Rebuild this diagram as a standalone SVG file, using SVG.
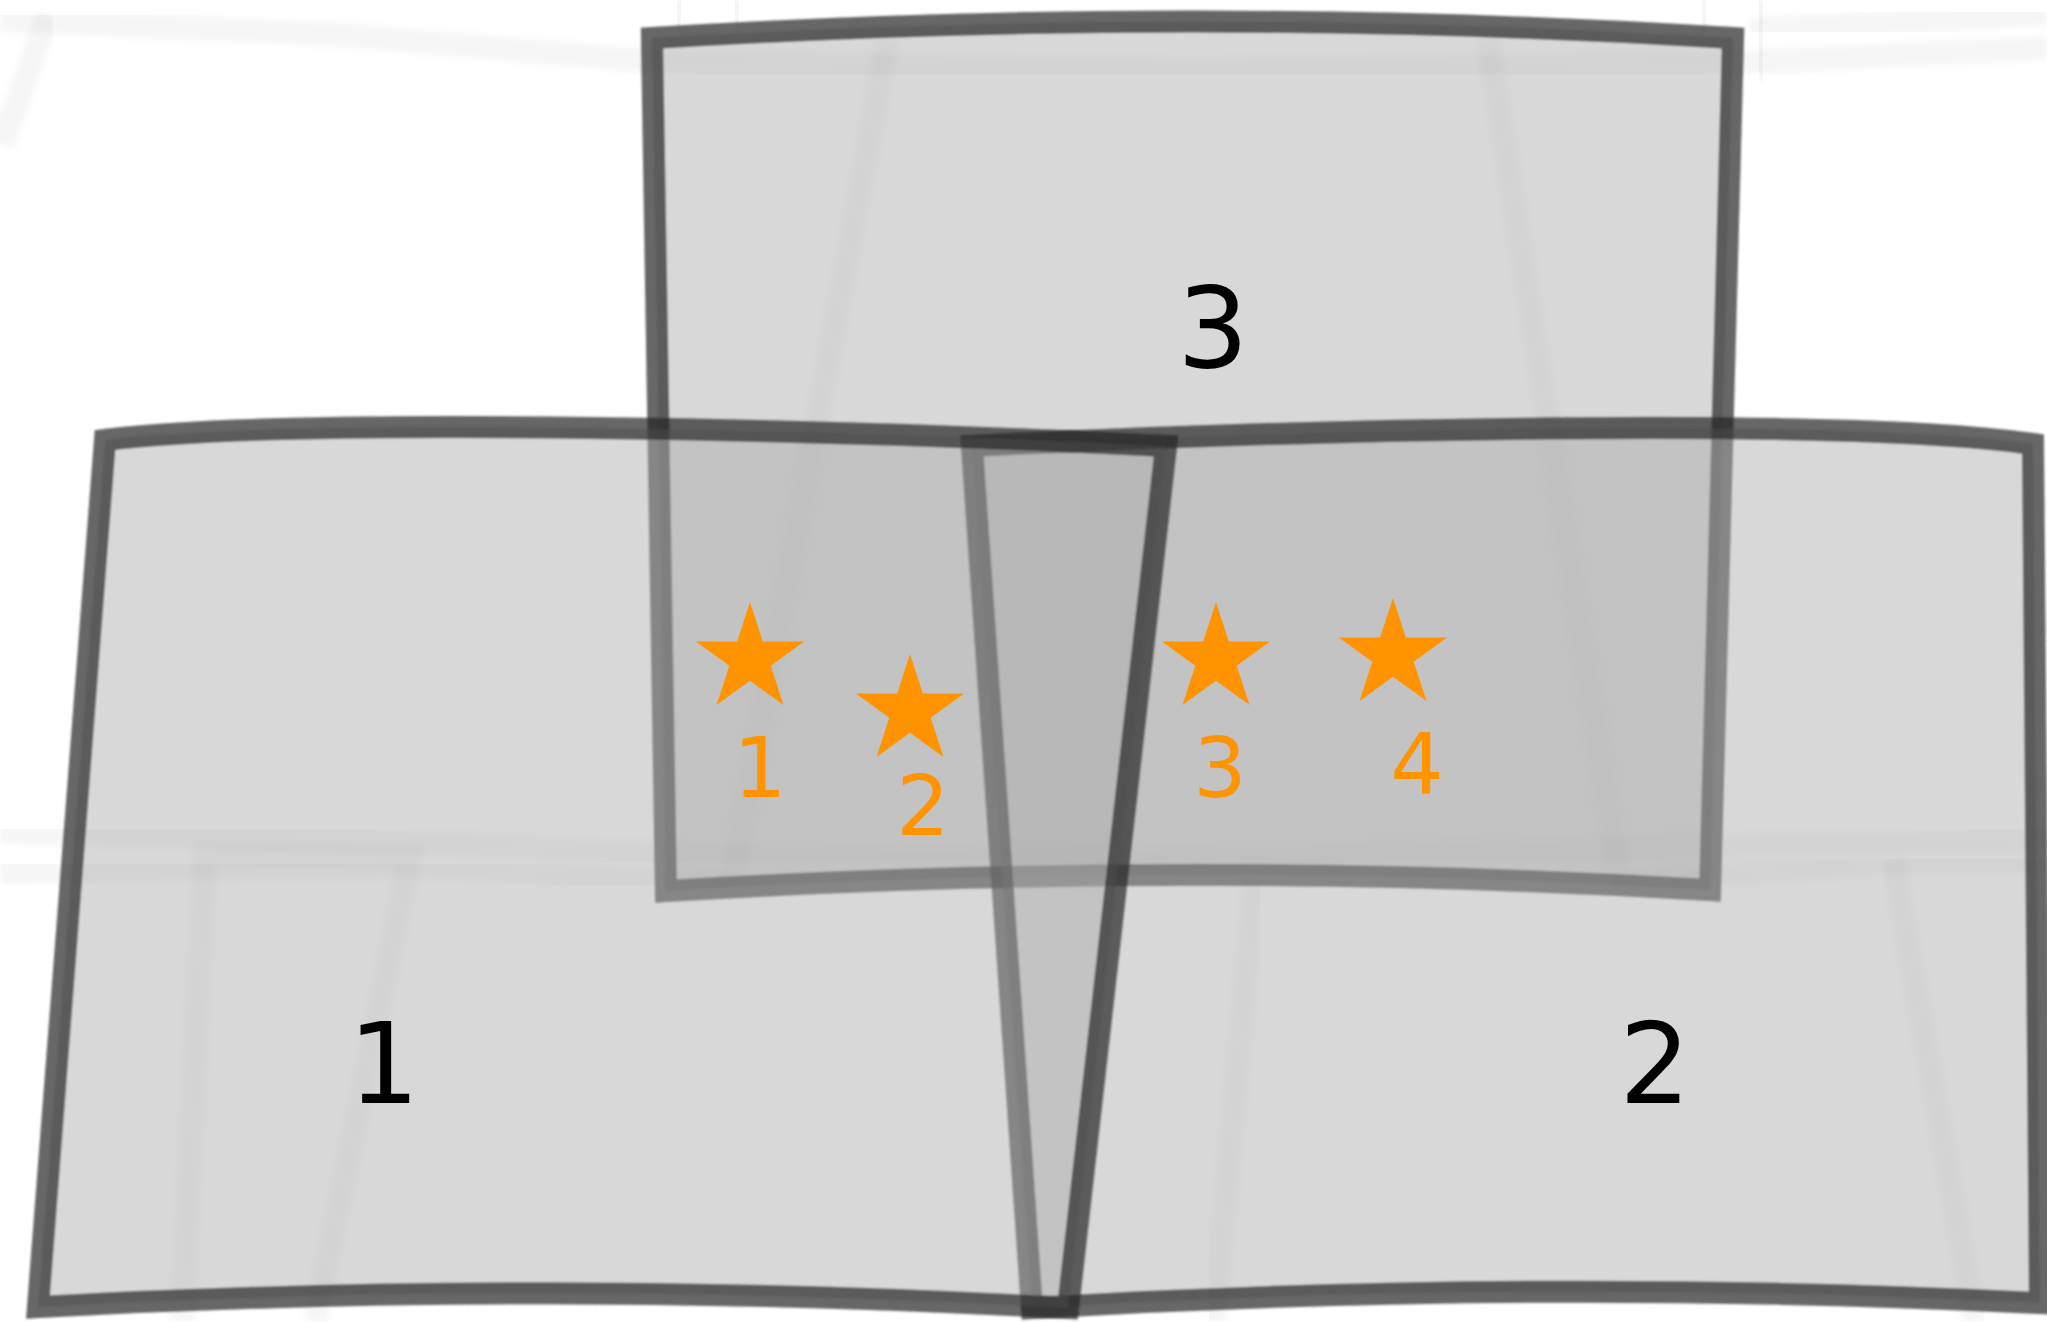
<svg xmlns="http://www.w3.org/2000/svg" width="2047" height="1322" viewBox="0 0 2047 1322">
  <style>
    .ghost { fill: none; stroke: #000; stroke-opacity: 0.035; stroke-width: 24; filter: url(#soft2); }
    .panel { fill: #ababab; fill-opacity: 0.46; stroke: #222; stroke-opacity: 0.69; stroke-width: 22; stroke-linejoin: miter; filter: url(#soft); }
    .big { font-family: "DejaVu Sans", "Liberation Sans", sans-serif; font-size: 112px; fill: #000; text-anchor: middle; }
    .small { font-family: "DejaVu Sans", "Liberation Sans", sans-serif; font-size: 84px; fill: #ff9400; text-anchor: middle; }
    .star { fill: #ff9400; }
  </style>
  <defs>
    <filter id="soft" x="-5%" y="-5%" width="110%" height="110%">
      <feGaussianBlur stdDeviation="1.2"/>
    </filter>
    <filter id="soft2" x="-10%" y="-10%" width="120%" height="120%">
      <feGaussianBlur stdDeviation="3"/>
    </filter>
    <path id="star" d="M0,-57 L12.8,-17.61 L54.21,-17.61 L20.71,6.73 L33.5,46.11 L0,21.77 L-33.5,46.11 L-20.71,6.73 L-54.21,-17.61 L-12.8,-17.61 Z"/>
  </defs>
  <rect width="2047" height="1322" fill="#ffffff"/>

  <g id="connectors">
    <g id="ghost-lines">
      <polyline class="ghost" points="0,20 330,34 660,62 1200,70 1745,62 2047,48"/>
      <polyline class="ghost" points="1750,30 2047,14"/>
      <polyline class="ghost" points="48,15 2,145"/>
      <polyline class="ghost" points="680,0 678,32"/>
      <polyline class="ghost" points="738,0 736,32"/>
      <polyline class="ghost" points="1705,0 1703,32"/>
      <polyline class="ghost" points="1762,0 1760,80"/>
      <polyline class="ghost" points="888,38 731,885"/>
      <polyline class="ghost" points="1488,38 1620,885"/>
      <polyline class="ghost" points="0,832 400,842 700,856 1024,860 1350,856 1720,846 2047,840"/>
      <polyline class="ghost" points="0,872 420,866 735,884"/>
      <polyline class="ghost" points="1615,884 1890,862 2047,862"/>
      <polyline class="ghost" points="182,1322 205,854 410,856 315,1322"/>
      <polyline class="ghost" points="1255,878 1214,1322"/>
      <polyline class="ghost" points="1893,860 1975,1322"/>
    </g>
  </g>

  <g id="panel-3">
    <path class="panel" d="M652,38 Q1192,5 1733,38 L1710,890 Q1190,859 666,891 Z"/>
    <text class="big" x="1213" y="367">3</text>
  </g>

  <g id="panel-2">
    <path class="panel" d="M972,446 C1288,430 1838,416 2033,444 L2040,1303 Q1536,1278 1032,1308 Z"/>
    <text class="big" x="1655" y="1103">2</text>
  </g>

  <g id="panel-1">
    <path class="panel" d="M105,440 C300,416 850,430 1166,446 L1068,1308 Q553,1279 38,1307 Z"/>
    <text class="big" x="384" y="1103">1</text>
  </g>

  <g id="markers">
    <g id="marker-1">
      <use href="#star" class="star" x="750" y="659"/>
      <text class="small" x="760" y="797">1</text>
    </g>
    <g id="marker-2">
      <use href="#star" class="star" x="910" y="711"/>
      <text class="small" x="923" y="835">2</text>
    </g>
    <g id="marker-3">
      <use href="#star" class="star" x="1216" y="659"/>
      <text class="small" x="1220" y="797">3</text>
    </g>
    <g id="marker-4">
      <use href="#star" class="star" x="1393" y="655"/>
      <text class="small" x="1417" y="793">4</text>
    </g>
  </g>
</svg>
